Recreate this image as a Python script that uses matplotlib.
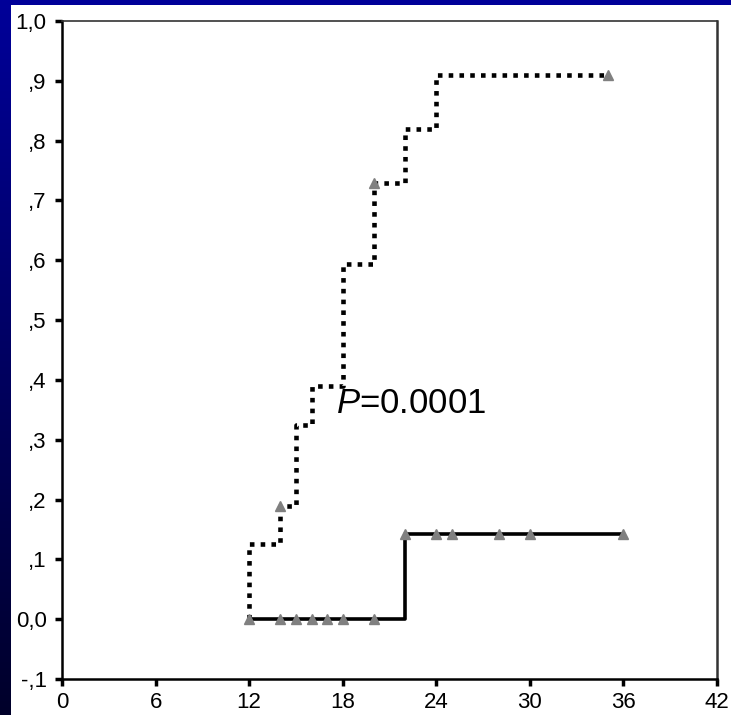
import numpy as np
import matplotlib
matplotlib.use("Agg")
import matplotlib.pyplot as plt
from matplotlib.colors import LinearSegmentedColormap

plt.rcParams['font.family'] = ['Liberation Sans', 'DejaVu Sans']
plt.rcParams['mathtext.fontset'] = 'custom'
plt.rcParams['mathtext.it'] = 'Liberation Sans:italic'
plt.rcParams['mathtext.rm'] = 'Liberation Sans'

# Cumulative incidence, group with events (dotted curve)
dotted_times = [12, 12, 14, 15, 16, 18, 20, 22, 24, 35]
dotted_values = [0.0, 0.125, 0.19, 0.325, 0.39, 0.593, 0.73, 0.82, 0.91, 0.91]
dotted_censor_t = [14, 20, 35]
dotted_censor_v = [0.19, 0.73, 0.91]

# Cumulative incidence, comparison group (solid curve)
solid_times = [12, 22, 36]
solid_values = [0.0, 0.143, 0.143]
solid_censor_t = [12, 14, 15, 16, 17, 18, 20, 22, 24, 25, 28, 30, 36]
solid_censor_v = [0.0, 0.0, 0.0, 0.0, 0.0, 0.0, 0.0, 0.143, 0.143, 0.143, 0.143, 0.143, 0.143]

x_ticks = [0, 6, 12, 18, 24, 30, 36, 42]
y_ticks = [-0.1, 0.0, 0.1, 0.2, 0.3, 0.4, 0.5, 0.6, 0.7, 0.8, 0.9, 1.0]
y_labels = ['-,1', '0,0', ',1', ',2', ',3', ',4', ',5', ',6', ',7', ',8', ',9', '1,0']
p_text = r'$\mathit{P}$=0.0001'

W, H = 731, 715
fig = plt.figure(figsize=(W / 100, H / 100), dpi=100, facecolor='white')

# Slide-style blue border: flat band on top, vertical gradient on the left
top_band = fig.add_axes([0, 1 - 5 / H, 1, 5 / H])
top_band.set_axis_off()
top_band.add_patch(plt.Rectangle((0, 0), 1, 1, color='#000099', transform=top_band.transAxes))

left_band = fig.add_axes([0, 0, 11 / W, 1])
left_band.set_axis_off()
grad = np.linspace(1, 0, 256).reshape(-1, 1)
cmap = LinearSegmentedColormap.from_list('edge', ['#00002a', '#000099'])
left_band.imshow(grad, aspect='auto', cmap=cmap, extent=[0, 1, 0, 1], origin='upper')

ax = fig.add_axes([62 / W, 36 / H, (717 - 62) / W, (679 - 21) / H])
ax.set_facecolor('white')

ax.step(dotted_times, dotted_values, where='post', color='black', lw=3.3,
        linestyle=(0, (1, 1.35)), dash_capstyle='butt', zorder=3)
ax.step(solid_times, solid_values, where='post', color='black', lw=2.6, zorder=4)

ax.plot(solid_censor_t, solid_censor_v, linestyle='none', marker='^', ms=7,
        color='#808080', markeredgecolor='#808080', zorder=5)
ax.plot(dotted_censor_t, dotted_censor_v, linestyle='none', marker='^', ms=7,
        color='#808080', markeredgecolor='#808080', zorder=5)

ax.text(17.6, 0.345, p_text, fontsize=25, ha='left', va='baseline', color='black')

ax.set_xlim(0, 42)
ax.set_ylim(-0.1, 1.0)
ax.set_xticks(x_ticks)
ax.set_xticklabels([str(t) for t in x_ticks], fontsize=16)
ax.set_yticks(y_ticks)
ax.set_yticklabels(y_labels, fontsize=16)
ax.tick_params(axis='both', direction='out', length=5, width=2.5, colors='black')
ax.tick_params(axis='x', pad=4)
ax.tick_params(axis='y', pad=6)

for side in ['left', 'bottom']:
    ax.spines[side].set_linewidth(1.8)
    ax.spines[side].set_color('black')
ax.spines['top'].set_linewidth(1.2)
ax.spines['top'].set_color('#333333')
ax.spines['right'].set_linewidth(1.8)
ax.spines['right'].set_color('#333333')

fig.savefig('out.png', dpi=100, facecolor='white')
